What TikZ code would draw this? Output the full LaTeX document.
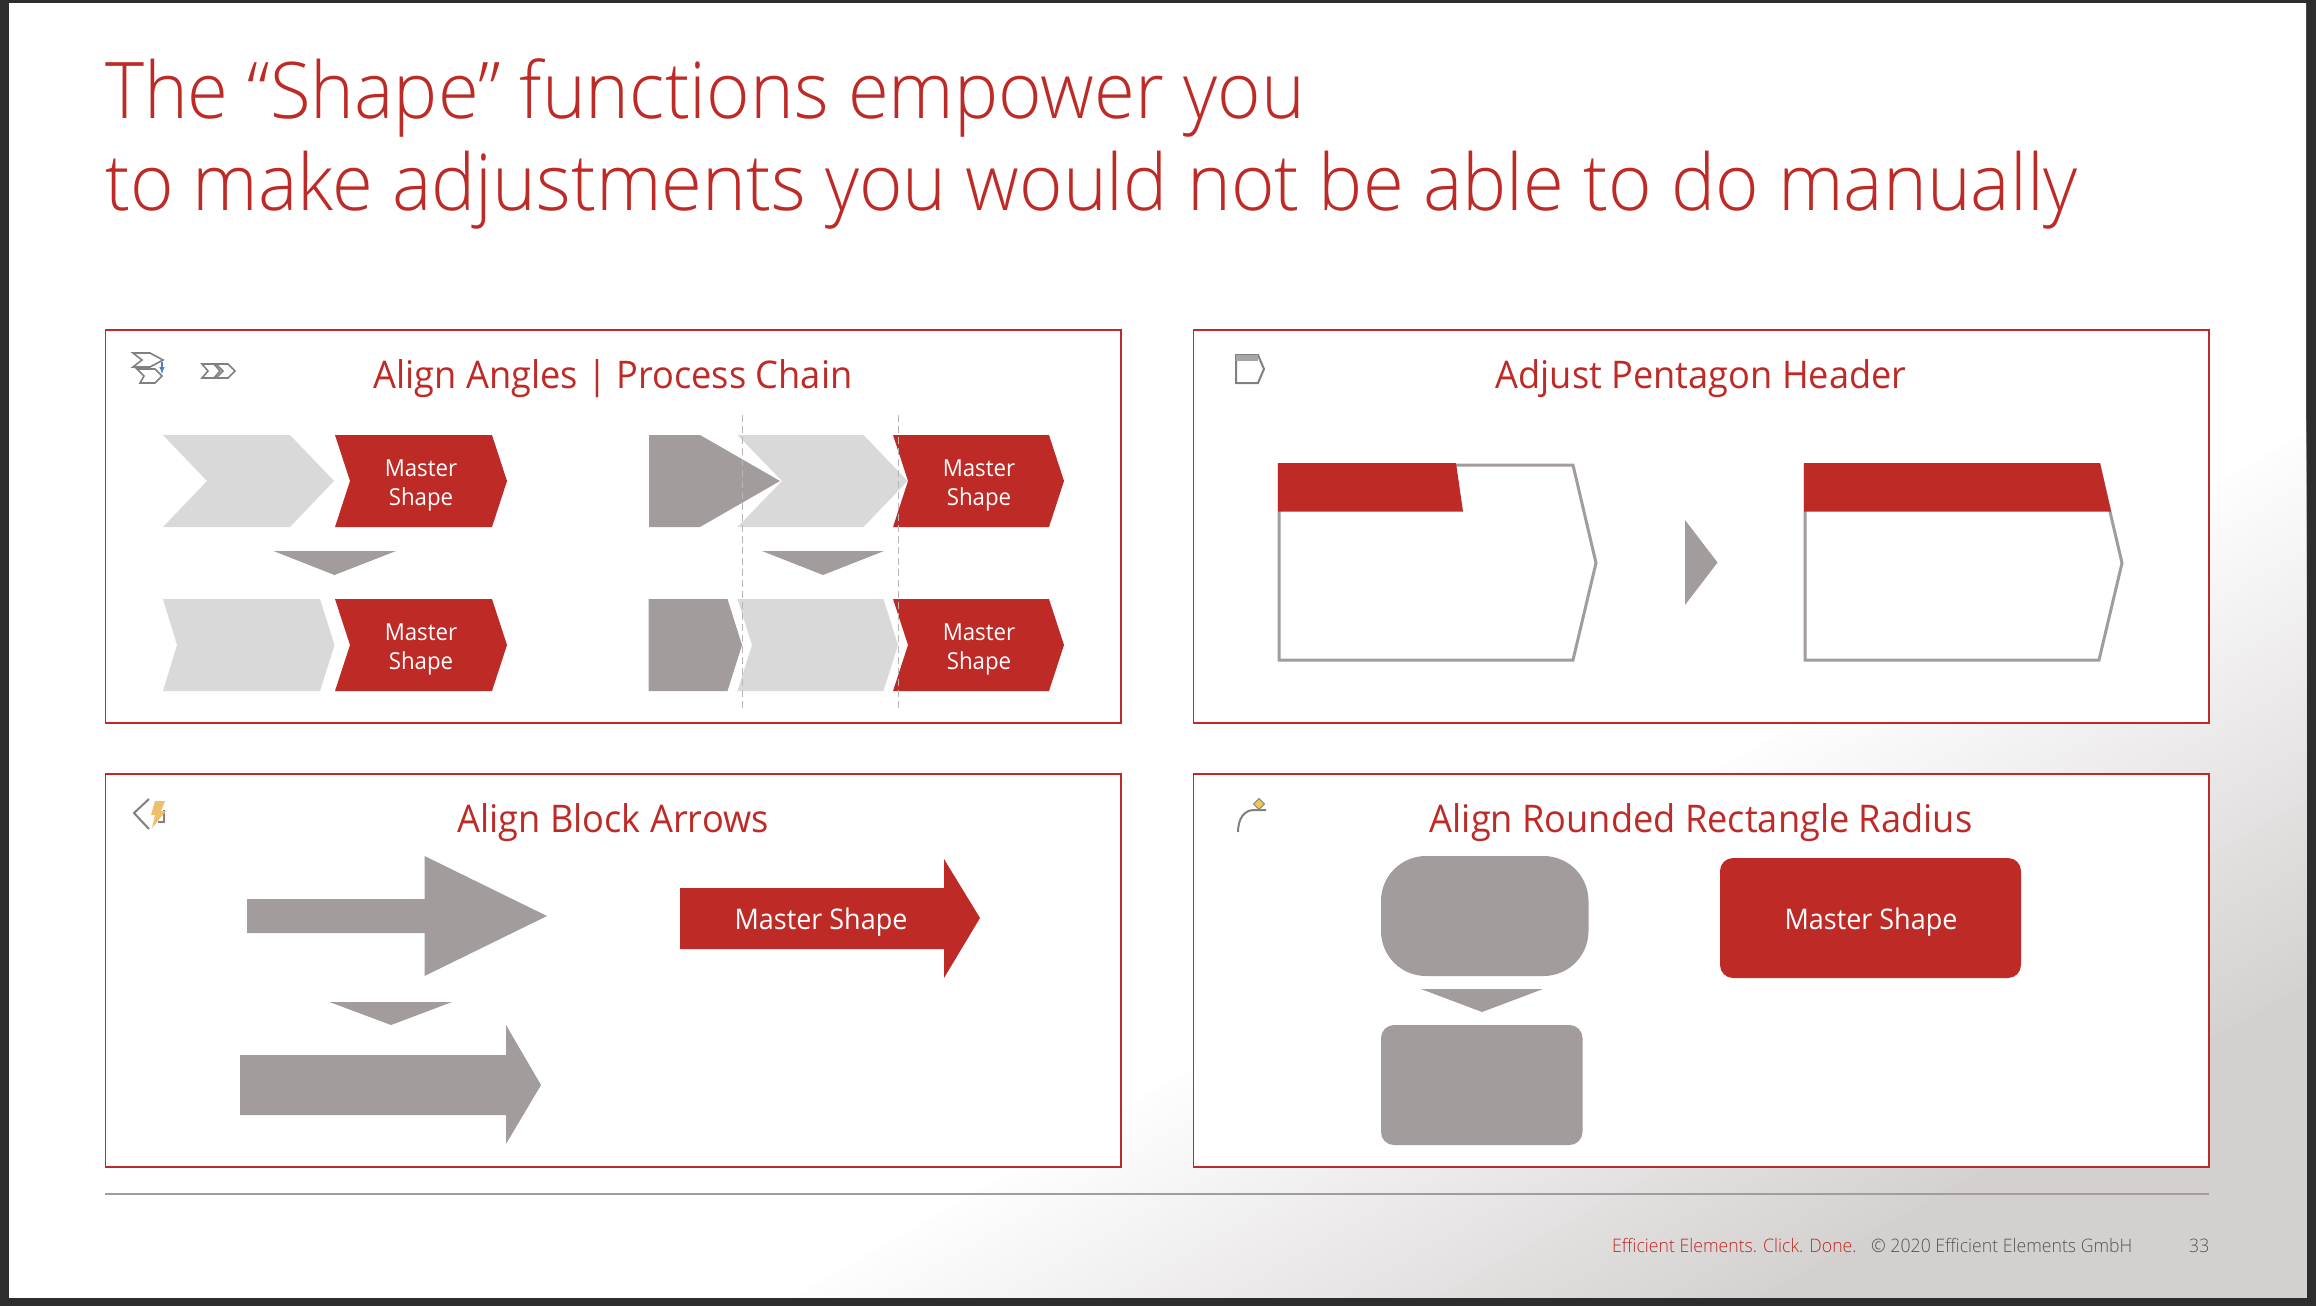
\documentclass[tikz,border=0pt]{standalone}
\usepackage{fontspec}
\setmainfont{Open Sans}[UprightFont=* Light,FakeStretch=0.95]
\newfontfamily\reg{Open Sans}[FakeStretch=0.95]
\usetikzlibrary{calc}
\definecolor{ered}{HTML}{BE2A26}
\definecolor{lgray}{HTML}{D9D9D9}
\definecolor{dgray}{HTML}{A29C9C}
\definecolor{dark}{HTML}{2D2D2D}
\definecolor{foot}{HTML}{5A5555}
\definecolor{bolt}{HTML}{EFBE6A}
\definecolor{gem}{HTML}{F0C850}
\definecolor{bluearrow}{HTML}{4A80C0}
\tikzset{
 panel/.style={draw=ered,line width=1.5pt,fill=white},
 redf/.style={fill=ered},
 lightf/.style={fill=lgray},
 grayf/.style={fill=dgray},
 vline/.style={draw=dgray!75,line width=1pt,dash pattern=on 7pt off 4pt},
 ptitle/.style={text=ered,font=\reg\fontsize{38.1}{46}\selectfont,anchor=base,inner sep=0},
 mtext/.style={text=white,font=\reg\fontsize{23.4}{29}\selectfont,align=center,inner sep=0},
 ltext/.style={text=white,font=\reg\fontsize{28.4}{34}\selectfont,inner sep=0},
 ttl/.style={text=ered,font=\fontsize{78.2}{94}\selectfont,anchor=base west,inner sep=0},
 ftr/.style={font=\fontsize{18.6}{22}\selectfont,anchor=base west,inner sep=0},
 outl/.style={draw=dgray,line width=3pt,fill=white},
 icon/.style={draw=gray,line width=1.6pt},
}
\begin{document}
\begin{tikzpicture}[x=1pt,y=-1pt]
\useasboundingbox (0,0) rectangle (2316,1306);
\fill[dark] (0,0) rectangle (2316,1306);
\begin{scope}
\clip (9,4) rectangle (2306,1297);
\fill[white] (0,0) rectangle (2316,1306);
\foreach \i in {0,...,43}{
 \pgfmathsetmacro{\d}{1509+\i*11.4}
 \pgfmathsetmacro{\c}{int(255-\i)}
 \pgfmathsetmacro{\e}{int(255-\i-\i/14)}
 \fill[color={rgb,255:red,\c;green,\e;blue,\e}]
  ({\d*0.496+3000*0.868},{\d*0.868-3000*0.496}) --
  ({\d*0.496-3000*0.868},{\d*0.868+3000*0.496}) --
  ({(\d+2000)*0.496-3000*0.868},{(\d+2000)*0.868+3000*0.496}) --
  ({(\d+2000)*0.496+3000*0.868},{(\d+2000)*0.868-3000*0.496}) -- cycle;
}
\end{scope}
% title
\node[ttl] (t1) at (105,118) {The “Shape” functions empower you};
\node[ttl] (t2) at (105,210) {to make adjustments you would not be able to do manually};
% panels
\draw[panel] (105.5,330) rectangle (1121,723);
\draw[panel] (1193.5,330) rectangle (2209,723);
\draw[panel] (105.5,774) rectangle (1121,1167);
\draw[panel] (1193.5,774) rectangle (2209,1167);
\node[ptitle] (p1) at (613,388.5) {Align Angles | Process Chain};
\node[ptitle] (p2) at (1701,388.5) {Adjust Pentagon Header};
\node[ptitle] (p3) at (613,832.5) {Align Block Arrows};
\node[ptitle] (p4) at (1701,832.5) {Align Rounded Rectangle Radius};
% panel 1
\fill[lightf] (163,435)--(290,435)--(334,481)--(290,527)--(163,527)--(207,481)--cycle;
\fill[redf] (335,435)--(492,435)--(507,481)--(492,527)--(335,527)--(350,481)--cycle;
\node[mtext] (m1) at (421,485) {Master\\Shape};
\fill[grayf] (273.5,551)--(396,551)--(334.5,575)--cycle;
\fill[lightf] (163,599)--(320,599)--(334.5,645)--(320,691)--(163,691)--(177,645)--cycle;
\fill[redf] (335,599)--(492,599)--(507,645)--(492,691)--(335,691)--(350,645)--cycle;
\node[mtext] (m2) at (421,649) {Master\\Shape};
\fill[grayf] (649,435)--(700,435)--(780,481)--(700,527)--(649,527)--cycle;
\fill[lightf] (737.5,435)--(863.5,435)--(907.6,481)--(863.5,527)--(737.5,527)--(782,481)--cycle;
\fill[redf] (893,435)--(1049,435)--(1064,481)--(1049,527)--(893,527)--(908,481)--cycle;
\node[mtext] (m3) at (979,485) {Master\\Shape};
\fill[grayf] (762,551)--(884,551)--(823,575)--cycle;
\fill[grayf] (648.5,599)--(727.5,599)--(742,645)--(727.5,691)--(648.5,691)--cycle;
\fill[lightf] (737.5,599)--(883.5,599)--(898,645)--(883.5,691)--(737.5,691)--(752,645)--cycle;
\fill[redf] (893,599)--(1049,599)--(1064,645)--(1049,691)--(893,691)--(908,645)--cycle;
\node[mtext] (m4) at (979,649) {Master\\Shape};
\coordinate (v1a) at (742,415); \coordinate (v1b) at (742,708);
\coordinate (v2a) at (898,415); \coordinate (v2b) at (898,708);
\draw[vline] (v1a)--(v1b);
\draw[vline] (v2a)--(v2b);
% panel 2
\draw[outl] (1279,465)--(1573,465)--(1596,563)--(1573,660)--(1279,660)--cycle;
\fill[redf] (1278,463)--(1456,463)--(1463,511.5)--(1278,511.5)--cycle;
\fill[grayf] (1685,520)--(1717.5,562.5)--(1685,605)--cycle;
\draw[outl] (1805,465)--(2099,465)--(2122,563)--(2099,660)--(1805,660)--cycle;
\fill[redf] (1804,463)--(2100,463)--(2111,511.5)--(1804,511.5)--cycle;
% panel 3
\fill[grayf] (247,899)--(424.5,899)--(424.5,856)--(547,916)--(424.5,976)--(424.5,933)--(247,933)--cycle;
\fill[grayf] (329.5,1002)--(452,1002)--(391,1025)--cycle;
\fill[grayf] (240,1055)--(506,1055)--(506,1025)--(541,1085)--(506,1144)--(506,1115)--(240,1115)--cycle;
\fill[redf] (680,888)--(944,888)--(944,859)--(980,918)--(944,978)--(944,949)--(680,949)--cycle;
\node[ltext] (m5) at (821,922.5) {Master Shape};
% panel 4
\fill[grayf,rounded corners=45pt] (1381,856) rectangle (1588.5,976);
\fill[grayf] (1421,989)--(1543,989)--(1482,1012)--cycle;
\fill[grayf,rounded corners=13pt] (1381,1025) rectangle (1582.5,1145);
\fill[redf,rounded corners=13pt] (1720,858) rectangle (2021,978);
\node[ltext] (m6) at (1871,922.5) {Master Shape};
% icons
\draw[icon] (133,353)--(150,353)--(163,360)--(150,367)--(133,367)--(142,360)--cycle;
\draw[icon] (137,369)--(155,369)--(162,376)--(155,383)--(140,383)--(144,376)--cycle;
\draw[bluearrow,line width=1.4pt,-latex] (162,362)--(162,374);
\draw[icon] (202,364)--(216,364)--(223,371)--(216,378)--(202,378)--(208,371)--cycle;
\draw[icon] (214,364)--(228,364)--(235,371)--(228,378)--(214,378)--(220,371)--cycle;
\draw[icon,line width=2pt] (1236,355)--(1258,355)--(1264,369)--(1258,383)--(1236,383)--cycle;
\fill[gray!70] (1236,355) rectangle (1258,361);
\draw[icon,line width=2pt] (149,799)--(134,813)--(149,829);
\draw[icon,line width=2pt] (158,822)--(164,822)--(164,810);
\fill[bolt] (155,801)--(165,801)--(161,811)--(166,811)--(152,828)--(155,815)--(151,815)--cycle;
\draw[icon,line width=2pt] (1238,832) .. controls (1238,819) and (1244,810) .. (1254,810) -- (1266,810);
\fill[gem,draw=gray,line width=.8pt] (1259,798.5)--(1264.5,804)--(1259,809.5)--(1253.5,804)--cycle;
% footer
\coordinate (la) at (105,1194); \coordinate (lb) at (2209,1194);
\draw[draw=dgray,line width=1.6pt] (la)--(lb);
\node[ftr,text=ered] (f1) at (1612,1252) {Efficient Elements. Click. Done.};
\node[ftr,text=foot] (f2) at (1871,1252) {© 2020 Efficient Elements GmbH};
\node[ftr,text=foot] (f3) at (2189,1252) {33};
\end{tikzpicture}
\end{document}
